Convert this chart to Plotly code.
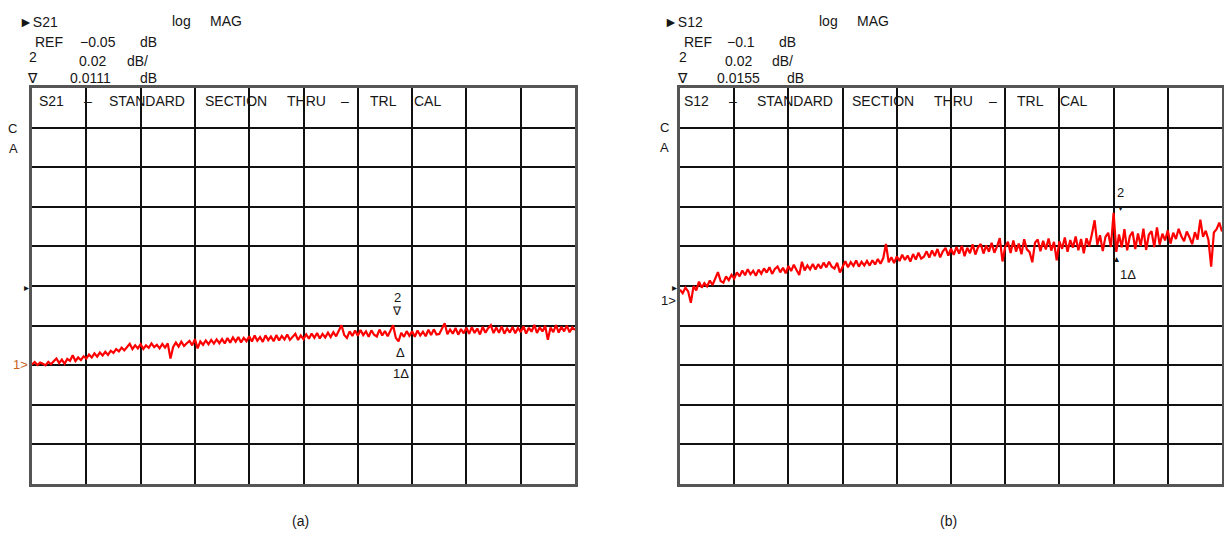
import plotly.graph_objects as go

W, H = 1224, 536

# ---------------- data (log MAG, dB) ----------------
ref_a = -0.05      # REF level, panel (a)
ref_b = -0.10      # REF level, panel (b)
scale_db = 0.02    # dB per division

s21_db = [
    -0.0896, -0.0884, -0.0899, -0.0887, -0.0893, -0.0901, -0.0883, -0.0895, -0.0880, -0.0866,
    -0.0889, -0.0872, -0.0893, -0.0868, -0.0878, -0.0850, -0.0879, -0.0861, -0.0874, -0.0855,
    -0.0867, -0.0846, -0.0861, -0.0840, -0.0857, -0.0836, -0.0851, -0.0832, -0.0848, -0.0827,
    -0.0838, -0.0819, -0.0830, -0.0811, -0.0825, -0.0806, -0.0792, -0.0819, -0.0799, -0.0815,
    -0.0794, -0.0818, -0.0800, -0.0812, -0.0790, -0.0809, -0.0797, -0.0815, -0.0793, -0.0811,
    -0.0790, -0.0866, -0.0808, -0.0786, -0.0806, -0.0781, -0.0803, -0.0789, -0.0777, -0.0800,
    -0.0768, -0.0815, -0.0780, -0.0797, -0.0775, -0.0794, -0.0772, -0.0791, -0.0770, -0.0789,
    -0.0768, -0.0790, -0.0763, -0.0786, -0.0760, -0.0781, -0.0758, -0.0785, -0.0762, -0.0779,
    -0.0754, -0.0780, -0.0750, -0.0776, -0.0758, -0.0782, -0.0749, -0.0774, -0.0755, -0.0779,
    -0.0748, -0.0775, -0.0752, -0.0770, -0.0745, -0.0772, -0.0756, -0.0741, -0.0773, -0.0750,
    -0.0769, -0.0744, -0.0766, -0.0740, -0.0762, -0.0737, -0.0765, -0.0742, -0.0760, -0.0736,
    -0.0758, -0.0733, -0.0754, -0.0728, -0.0698, -0.0747, -0.0762, -0.0729, -0.0752, -0.0725,
    -0.0751, -0.0722, -0.0748, -0.0729, -0.0757, -0.0724, -0.0746, -0.0755, -0.0720, -0.0750,
    -0.0727, -0.0754, -0.0723, -0.0698, -0.0762, -0.0780, -0.0736, -0.0757, -0.0728, -0.0752,
    -0.0729, -0.0756, -0.0725, -0.0750, -0.0731, -0.0754, -0.0721, -0.0748, -0.0719, -0.0745,
    -0.0742, -0.0716, -0.0688, -0.0744, -0.0720, -0.0741, -0.0712, -0.0746, -0.0717, -0.0739,
    -0.0711, -0.0742, -0.0708, -0.0737, -0.0715, -0.0745, -0.0706, -0.0736, -0.0713, -0.0698,
    -0.0738, -0.0710, -0.0736, -0.0704, -0.0741, -0.0714, -0.0735, -0.0707, -0.0739, -0.0712,
    -0.0733, -0.0703, -0.0740, -0.0711, -0.0731, -0.0696, -0.0737, -0.0708, -0.0730, -0.0701,
    -0.0772, -0.0710, -0.0733, -0.0698, -0.0735, -0.0706, -0.0729, -0.0700, -0.0734, -0.0709,
    -0.0722,
]

s12_db = [
    -0.1018, -0.1036, -0.1008, -0.1027, -0.1085, -0.1001, -0.1022, -0.0978, -0.1008, -0.0986,
    -0.1002, -0.0972, -0.0995, -0.0965, -0.0930, -0.0975, -0.0983, -0.0952, -0.0971, -0.0944,
    -0.0962, -0.0931, -0.0951, -0.0922, -0.0946, -0.0915, -0.0941, -0.0923, -0.0948, -0.0917,
    -0.0938, -0.0911, -0.0932, -0.0905, -0.0939, -0.0914, -0.0902, -0.0931, -0.0908, -0.0936,
    -0.0899, -0.0924, -0.0893, -0.0919, -0.0945, -0.0878, -0.0921, -0.0896, -0.0916, -0.0889,
    -0.0917, -0.0890, -0.0911, -0.0882, -0.0906, -0.0877, -0.0903, -0.0912, -0.0883, -0.0932,
    -0.0900, -0.0875, -0.0905, -0.0879, -0.0898, -0.0871, -0.0902, -0.0878, -0.0896, -0.0873,
    -0.0897, -0.0870, -0.0891, -0.0864, -0.0888, -0.0859, -0.0788, -0.0880, -0.0855, -0.0884,
    -0.0850, -0.0874, -0.0842, -0.0869, -0.0846, -0.0877, -0.0839, -0.0866, -0.0832, -0.0862,
    -0.0852, -0.0825, -0.0857, -0.0820, -0.0849, -0.0813, -0.0855, -0.0825, -0.0808, -0.0846,
    -0.0812, -0.0843, -0.0803, -0.0836, -0.0797, -0.0849, -0.0807, -0.0834, -0.0790, -0.0841,
    -0.0804, -0.0788, -0.0836, -0.0795, -0.0827, -0.0782, -0.0832, -0.0800, -0.0758, -0.0876,
    -0.0802, -0.0777, -0.0833, -0.0770, -0.0826, -0.0786, -0.0840, -0.0764, -0.0815, -0.0829,
    -0.0880, -0.0781, -0.0765, -0.0824, -0.0772, -0.0815, -0.0760, -0.0821, -0.0777, -0.0870,
    -0.0775, -0.0812, -0.0755, -0.0827, -0.0768, -0.0806, -0.0750, -0.0820, -0.0762, -0.0835,
    -0.0759, -0.0799, -0.0737, -0.0668, -0.0792, -0.0744, -0.0824, -0.0752, -0.0731, -0.0803,
    -0.0630, -0.0828, -0.0740, -0.0805, -0.0713, -0.0820, -0.0748, -0.0726, -0.0813, -0.0735,
    -0.0797, -0.0710, -0.0818, -0.0741, -0.0723, -0.0804, -0.0704, -0.0791, -0.0736, -0.0770,
    -0.0719, -0.0786, -0.0731, -0.0763, -0.0711, -0.0749, -0.0774, -0.0725, -0.0754, -0.0789,
    -0.0728, -0.0766, -0.0665, -0.0752, -0.0721, -0.0768, -0.0902, -0.0730, -0.0713, -0.0680,
    -0.0725,
]

points = list(range(len(s21_db)))   # sweep point index

header_a = ["S21", "REF", "\u22120.05", "dB", "2", "0.02", "dB/", "\u2207", "0.0111", "dB"]
header_b = ["S12", "REF", "\u22120.1", "dB", "2", "0.02", "dB/", "\u2207", "0.0155", "dB"]
title_words_a = ["S21", "\u2013", "STANDARD", "SECTION", "THRU", "\u2013", "TRL", "CAL"]
title_words_b = ["S12", "\u2013", "STANDARD", "SECTION", "THRU", "\u2013", "TRL", "CAL"]
captions = ["(a)", "(b)"]

# ---------------- figure ----------------
RED = "#ff0000"
TXT = "#161616"
FONT = "Liberation Sans, Arial, sans-serif"

fig = go.Figure()
fig.add_trace(go.Scatter(x=points, y=s21_db, mode="lines",
                         line=dict(color=RED, width=2.2), xaxis="x", yaxis="y",
                         showlegend=False, hoverinfo="skip"))
fig.add_trace(go.Scatter(x=points, y=s12_db, mode="lines",
                         line=dict(color=RED, width=2.2), xaxis="x2", yaxis="y2",
                         showlegend=False, hoverinfo="skip"))

ydom = [1 - 484 / H, 1 - 88 / H]
npts = len(points) - 1


def xax(dom, anchor):
    return dict(domain=dom, range=[0, npts], dtick=npts / 10, tick0=0,
                showgrid=True, gridcolor="#111", gridwidth=1.8,
                zeroline=False, showticklabels=False, ticks="",
                showline=True, mirror=True, linecolor="#555", linewidth=2.5,
                anchor=anchor, fixedrange=True)


def yax(dom, ref, anchor):
    return dict(domain=dom, range=[ref - 5 * scale_db, ref + 5 * scale_db],
                dtick=scale_db, tick0=ref - 5 * scale_db,
                showgrid=True, gridcolor="#111", gridwidth=1.8,
                zeroline=False, showticklabels=False, ticks="",
                showline=True, mirror=True, linecolor="#555", linewidth=2.5,
                anchor=anchor, fixedrange=True)


ann = []


def txt(s, px, py, anchor="left", size=14, color=TXT):
    ann.append(dict(text=s, x=px / W, y=1 - py / H, xref="paper", yref="paper",
                    xanchor=anchor, yanchor="middle", showarrow=False,
                    font=dict(family=FONT, size=size, color=color)))


def status_block(ox, hdr, log_x, mag_x, pos):
    txt("\u25ba" + hdr[0], ox, 22)
    txt("log", log_x, 21)
    txt("MAG", mag_x, 21)
    for s, (px, py, sz) in zip(hdr[1:], pos):
        txt(s, px, py, size=sz)


# ----- panel (a) -----
status_block(17, header_a, 170, 208,
             [(33, 42, 14), (78, 42, 14), (138, 42, 14),
              (27, 57, 14), (77, 61, 14), (125, 61, 14),
              (25, 78, 14), (68, 78, 14), (138, 78, 14)])
row_a = [(37, "left"), (88, "center"), (107, "left"), (203, "left"),
         (285, "left"), (345, "center"), (368, "left"), (412, "left")]
for w, (px, anc) in zip(title_words_a, row_a):
    txt(w, px, 101, anchor=anc)
txt("C", 12, 128, anchor="center", size=13)
txt("A", 13, 148, anchor="center", size=13)
txt("\u25b8", 26, 287, anchor="center", size=10)
txt("1>", 20, 364, anchor="center", size=13, color="#c8641e")
txt("2", 397, 297, anchor="center", size=13)
txt("\u2207", 397, 311, anchor="center", size=12)
txt("\u0394", 400, 352, anchor="center", size=13)
txt("1\u0394", 401, 373, anchor="center", size=13)
txt(captions[0], 300, 521, anchor="center", size=14)

# ----- panel (b) -----
status_block(662, header_b, 817, 855,
             [(682, 42, 14), (725, 42, 14), (777, 42, 14),
              (677, 57, 14), (723, 61, 14), (770, 61, 14),
              (675, 78, 14), (715, 78, 14), (785, 78, 14)])
row_b = [(682, "left"), (733, "center"), (755, "left"), (850, "left"),
         (932, "left"), (993, "center"), (1015, "left"), (1058, "left")]
for w, (px, anc) in zip(title_words_b, row_b):
    txt(w, px, 101, anchor=anc)
txt("C", 664, 127, anchor="center", size=13)
txt("A", 664, 147, anchor="center", size=13)
txt("\u25b8", 674, 287, anchor="center", size=10)
txt("1>", 669, 300, anchor="center", size=13)
txt("2", 1120, 193, anchor="center", size=13)
txt("\u25be", 1120, 207, anchor="center", size=10)
txt("\u25b4", 1116, 258, anchor="center", size=10)
txt("1\u0394", 1128, 274, anchor="center", size=13)
txt(captions[1], 948, 521, anchor="center", size=14)

fig.update_layout(
    width=W, height=H,
    margin=dict(l=0, r=0, t=0, b=0),
    paper_bgcolor="white", plot_bgcolor="white",
    xaxis=xax([32 / W, 575 / W], "y"),
    yaxis=yax(ydom, ref_a, "x"),
    xaxis2=xax([680 / W, 1222 / W], "y2"),
    yaxis2=yax(ydom, ref_b, "x2"),
    annotations=ann,
    showlegend=False,
)

fig.write_html(
    "out.html",
    config={"displayModeBar": False},
    post_script="document.body.style.margin='0';document.body.style.overflow='hidden';",
)
